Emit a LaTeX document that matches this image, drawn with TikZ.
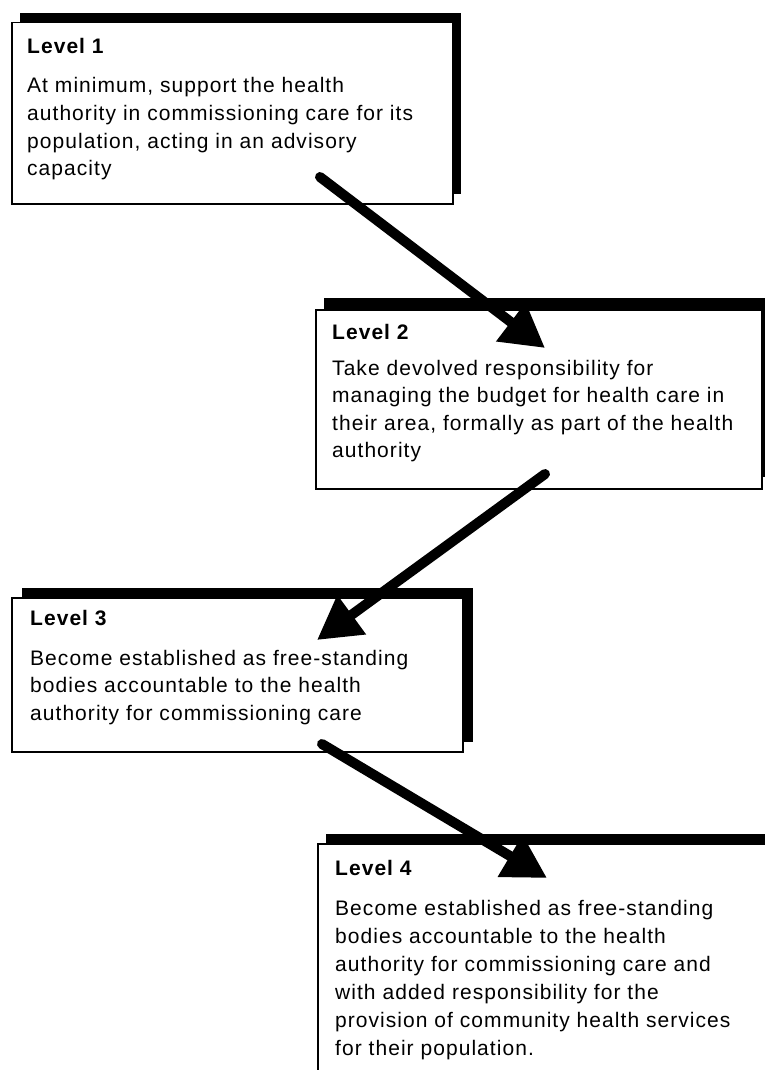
\documentclass[tikz,border=0pt]{standalone}
\usepackage{fontspec}
\newfontfamily\panelfont{Liberation Sans}[LetterSpace=5]
\usetikzlibrary{arrows.meta,shadows}

\begin{document}
\begin{tikzpicture}[x=1pt,y=-1pt,
  panel/.style={draw=black, line width=1.5pt, fill=white, inner sep=0pt,
    anchor=north west},
  heavyshadow/.style 2 args={drop shadow={fill=black, opacity=1,
    shadow xshift=#1, shadow yshift=#2}},
  heading/.style={font=\panelfont\bfseries\fontsize{21pt}{27.5pt}\selectfont,
    inner sep=0pt, anchor=base west},
  bodytext/.style={font=\panelfont\fontsize{21pt}{27.5pt}\selectfont,
    inner sep=0pt, anchor=base west},
  flow/.style={line width=10pt, line cap=round,
    -{Triangle[length=43pt,width=46pt]}}]

\useasboundingbox (0,0) rectangle (765,1070);
\clip (0,0) rectangle (765,1070);

% the four level panels, each with a solid offset shadow
\node[panel, heavyshadow={8pt}{10pt}, minimum width=441pt, minimum height=181pt] (b1) at (11,22) {};
\node[panel, heavyshadow={8pt}{12pt}, minimum width=446pt, minimum height=179pt] (b2) at (315,309) {};
\node[panel, heavyshadow={10pt}{10pt}, minimum width=451pt, minimum height=154pt] (b3) at (11,597) {};
\node[panel, heavyshadow={8pt}{10pt}, minimum width=473pt, minimum height=257pt] (b4) at (317,843) {};

% panel texts
\node[heading] (h1) at (27,54) {Level 1};
\foreach \t [count=\i] in {{At minimum, support the health},
    {authority in commissioning care for its},
    {population, acting in an advisory},
    {capacity}}
  \node[bodytext] (t1-\i) at (27,{93+27.5*(\i-1)}) {\t};

\node[heading] (h2) at (332,339) {Level 2};
\foreach \t [count=\i] in {{Take devolved responsibility for},
    {managing the budget for health care in},
    {their area, formally as part of the health},
    {authority}}
  \node[bodytext] (t2-\i) at (332,{375+27.5*(\i-1)}) {\t};

\node[heading] (h3) at (30,625) {Level 3};
\foreach \t [count=\i] in {{Become established as free-standing},
    {bodies accountable to the health},
    {authority for commissioning care}}
  \node[bodytext] (t3-\i) at (30,{665+27.5*(\i-1)}) {\t};

\node[heading] (h4) at (335,875) {Level 4};
\foreach \t [count=\i] in {{Become established as free-standing},
    {bodies accountable to the health},
    {authority for commissioning care and},
    {with added responsibility for the},
    {provision of community health services},
    {for their population.}}
  \node[bodytext] (t4-\i) at (335,{915+28*(\i-1)}) {\t};

% connector end points
\coordinate (a1s) at (320,177);
\coordinate (a1e) at (545,348);
\coordinate (a2s) at (545,474);
\coordinate (a2e) at (317,640);
\coordinate (a3s) at (322,744);
\coordinate (a3e) at (547,878);

\draw[flow] (a1s) -- (a1e);
\draw[flow] (a2s) -- (a2e);
\draw[flow] (a3s) -- (a3e);
\end{tikzpicture}
\end{document}
